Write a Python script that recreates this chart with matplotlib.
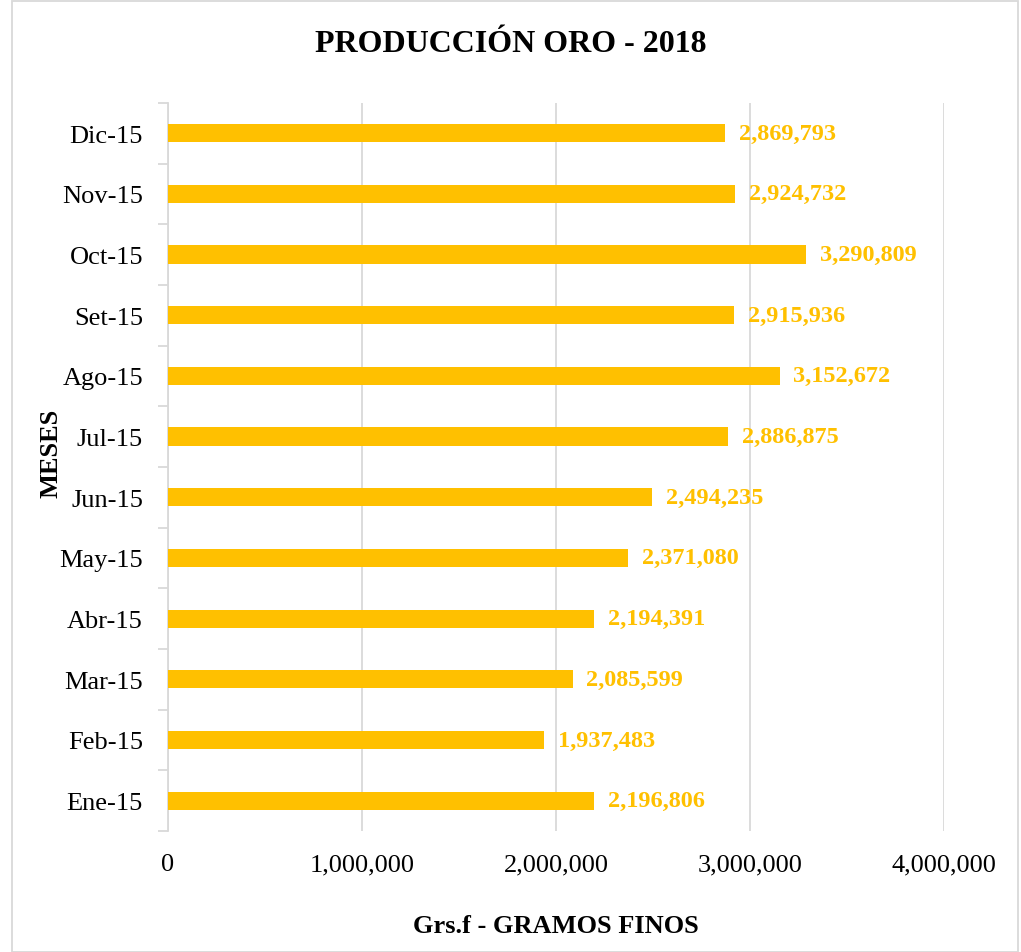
import numpy as np
import matplotlib.pyplot as plt
from matplotlib.ticker import FuncFormatter, FixedLocator
from matplotlib.patches import Rectangle

# ── data ──────────────────────────────────────────────────────────────────────

meses = ["Ene-15", "Feb-15", "Mar-15", "Abr-15", "May-15", "Jun-15",
         "Jul-15", "Ago-15", "Set-15", "Oct-15", "Nov-15", "Dic-15"]
gramos = [2196806, 1937483, 2085599, 2194391, 2371080, 2494235,
          2886875, 3152672, 2915936, 3290809, 2924732, 2869793]
xticks = [0, 1000000, 2000000, 3000000, 4000000]

gold = "#FFC000"
grid = "#D9D9D9"

plt.rcParams["font.family"] = ["Liberation Serif", "DejaVu Serif"]

fig = plt.figure(figsize=(10.21, 9.53), dpi=100)
ax = fig.add_axes([0.1645, 0.127, 0.760, 0.764])

y = np.arange(len(meses))
ax.barh(y, gramos, height=0.3, color=gold, zorder=3)

# value labels right of each bar
for yi, v in zip(y, gramos):
    ax.annotate(f"{v:,}", xy=(v, yi), xytext=(10, 0), textcoords="offset points",
                va="center", ha="left", fontsize=17.5, fontweight="bold",
                color=gold, zorder=4)

ax.set_xlim(0, 4000000)
ax.set_ylim(-0.5, len(meses) - 0.5)
ax.set_xticks(xticks)
ax.xaxis.set_major_formatter(FuncFormatter(lambda v, p: f"{int(v):,}"))
ax.set_yticks(y)
ax.set_yticklabels(meses)
ax.yaxis.set_minor_locator(FixedLocator(np.arange(-0.5, len(meses), 1)))

ax.tick_params(axis="x", length=0, labelsize=19, pad=16)
ax.tick_params(axis="y", which="major", length=0, labelsize=19, pad=18)
ax.tick_params(axis="y", which="minor", length=7, color=grid, width=1.3)

ax.grid(axis="x", color=grid, linewidth=1.3, zorder=0)
for s in ["top", "right", "bottom"]:
    ax.spines[s].set_visible(False)
ax.spines["left"].set_color(grid)
ax.spines["left"].set_linewidth(1.3)

ax.set_xlabel("Grs.f - GRAMOS FINOS", fontsize=19, fontweight="bold", labelpad=28)
ax.set_ylabel("MESES", fontsize=19, fontweight="bold")
ax.yaxis.set_label_coords(-0.1355, 0.52)

fig.suptitle("PRODUCCIÓN ORO - 2018", fontsize=23, fontweight="bold", y=0.968)

fig.patches.append(Rectangle((0.012, 0.0), 0.985, 0.998, transform=fig.transFigure,
                             fill=False, edgecolor=grid, linewidth=1.3))

plt.savefig("out.png", dpi=100)
